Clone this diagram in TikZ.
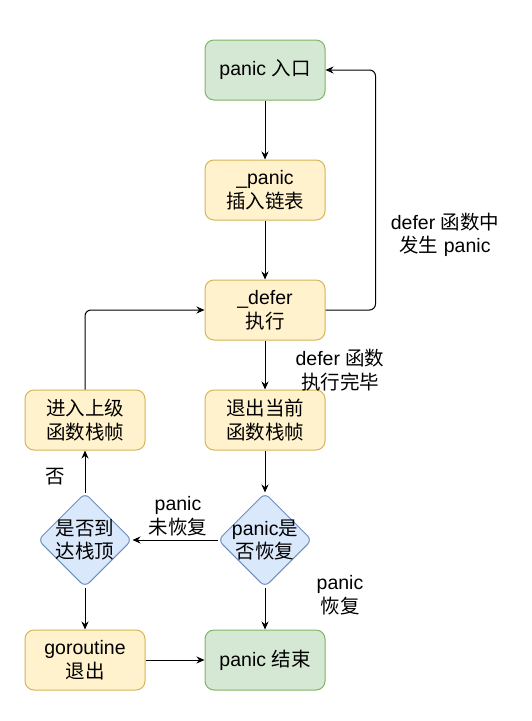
\documentclass[tikz,border=0pt]{standalone}
\usepackage{fontspec}
\setmainfont{Liberation Sans}
\newfontfamily\cjkfnt{Noto Sans CJK SC}
\usetikzlibrary{shapes.geometric,arrows.meta}
\newcommand\zhtxt[1]{{\cjkfnt #1}}
\definecolor{gfill}{HTML}{D5E8D4}
\definecolor{gline}{HTML}{82B366}
\definecolor{yfill}{HTML}{FFF2CC}
\definecolor{yline}{HTML}{D6B656}
\definecolor{bfill}{HTML}{DAE8FC}
\definecolor{bline}{HTML}{6C8EBF}
\begin{document}
\begin{tikzpicture}[x=1pt,y=-1pt,
  every node/.style={font=\fontsize{19.5}{23.5}\selectfont},
  box/.style={draw, rounded corners=9pt, minimum width=120pt, minimum height=60pt, align=center, line width=1pt, inner sep=0pt},
  gbox/.style={box, fill=gfill, draw=gline},
  ybox/.style={box, fill=yfill, draw=yline},
  dia/.style={diamond, aspect=1, minimum width=94pt, minimum height=94pt, inner sep=0pt, rounded corners=6pt, fill=bfill, draw=bline, line width=1pt},
  arr/.style={-{Stealth[length=8pt,width=7pt]}, line width=1pt},
  lbl/.style={align=center, inner sep=0pt}
]
\fill[white] (0,0) rectangle (531,721);
\useasboundingbox (0,0) rectangle (531,721);

\node[gbox] (entry) at (265,70) {panic \zhtxt{入口}};
\node[ybox] (insert) at (265,190) {\_panic\\\zhtxt{插入链表}};
\node[ybox] (exec) at (265,310) {\_defer\\\zhtxt{执行}};
\node[ybox] (exitf) at (265,420) {\zhtxt{退出当前}\\\zhtxt{函数栈帧}};
\node[dia, label={[align=center]center:{panic\zhtxt{是}\\\zhtxt{否恢复}}}] (d1) at (265,540) {};
\node[gbox] (endn) at (265,660) {panic \zhtxt{结束}};
\node[dia, label={[align=center]center:{\zhtxt{是否到}\\\zhtxt{达栈顶}}}] (d2) at (85,540) {};
\node[ybox] (up) at (85,420) {\zhtxt{进入上级}\\\zhtxt{函数栈帧}};
\node[ybox] (gor) at (85,660) {goroutine\\\zhtxt{退出}};

\node[lbl] (lab1) at (445,235) {defer \zhtxt{函数中}\\\zhtxt{发生} panic};
\node[lbl] (lab2) at (340,370) {defer \zhtxt{函数}\\\zhtxt{执行完毕}};
\node[lbl] (lab3) at (178,516) {panic\\\zhtxt{未恢复}};
\node[lbl] (lab4) at (55,477) {\zhtxt{否}};
\node[lbl] (lab5) at (340,595) {panic\\\zhtxt{恢复}};

\draw[arr] (entry) -- (insert);
\draw[arr] (insert) -- (exec);
\draw[arr] (exec) -- (exitf);
\draw[arr] (exitf) -- (d1);
\draw[arr] (d1) -- (endn);
\draw[arr] (d1.west) -- (d2.east);
\draw[arr] (d2.north) -- (up.south);
\draw[arr] (d2.south) -- (gor.north);
\draw[arr] (gor.east) -- (endn.west);
\draw[arr, rounded corners=6pt] (up.north) |- (exec.west);
\draw[arr, rounded corners=6pt] (exec.east) -- ++(50,0) |- (entry.east);
\end{tikzpicture}
\end{document}
